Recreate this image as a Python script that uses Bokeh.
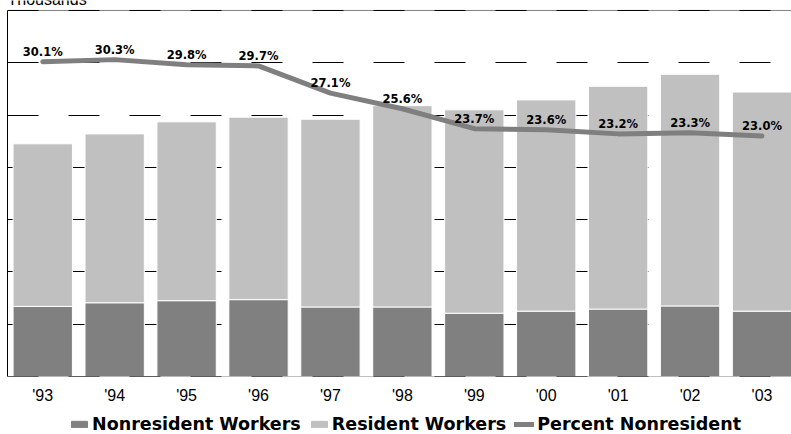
from bokeh.plotting import figure
from bokeh.layouts import column
from bokeh.models import (Range1d, FixedTicker, Span, Label, Legend,
                          LegendItem, ColumnDataSource)
from bokeh.core.properties import value
from bokeh.embed import file_html
from bokeh.resources import INLINE

# Workers by residency status (thousands) and the nonresident share (%)
years = ["'93", "'94", "'95", "'96", "'97", "'98", "'99", "'00", "'01", "'02", "'03"]
nonresident = [13.4, 14.1, 14.5, 14.7, 13.3, 13.3, 12.1, 12.5, 12.9, 13.5, 12.5]
resident = [31.1, 32.3, 34.2, 34.9, 35.9, 38.5, 38.9, 40.4, 42.6, 44.3, 41.9]
pct_nonresident = [30.1, 30.3, 29.8, 29.7, 27.1, 25.6, 23.7, 23.6, 23.2, 23.3, 23.0]
y_ticks = [0, 10, 20, 30, 40, 50, 60, 70]
pct_max = 35
series_names = ["Nonresident Workers", "Resident Workers", "Percent Nonresident"]

DARK = "#808080"
LIGHT = "#c0c0c0"
LINE = "#7f7f7f"

# the frame runs to the top edge of the canvas so the unit caption can sit
# above the last rule; the scales are stretched so that rule stays 10px down
W = 791
MAIN_H, KEY_H = 406, 28
FRAME_H = 377
GRID_H = 367
y_top = y_ticks[-1] * FRAME_H / GRID_H
pct_top = pct_max * FRAME_H / GRID_H

xs = list(range(len(years)))
src = ColumnDataSource(dict(
    x=xs, year=years, nonres=nonresident, res=resident, pct=pct_nonresident,
    pct_label=[f"{v:.1f}%" for v in pct_nonresident],
))

p = figure(width=W, height=MAIN_H, output_backend="svg", toolbar_location=None,
           x_range=Range1d(-0.49, 10.41), y_range=Range1d(0, y_top),
           min_border_left=7, min_border_right=0, min_border_top=0,
           min_border_bottom=MAIN_H - FRAME_H, outline_line_color=None)
p.extra_y_ranges = {"pct": Range1d(0, pct_top)}

# axes
p.xaxis.ticker = FixedTicker(ticks=xs)
p.xaxis.major_label_overrides = {i: y for i, y in enumerate(years)}
p.xaxis.axis_line_color = None
p.xaxis.major_tick_line_color = None
p.xaxis.minor_tick_line_color = None
p.xaxis.major_tick_out = 0
p.xaxis.major_label_text_font = "Liberation Sans"
p.xaxis.major_label_text_font_size = "16px"
p.xaxis.major_label_text_color = "black"
p.xaxis.major_label_standoff = 10

p.yaxis.ticker = FixedTicker(ticks=y_ticks)
p.yaxis.bounds = (y_ticks[0], y_ticks[-1])
p.yaxis.axis_line_color = "black"
p.yaxis.axis_line_width = 1
p.yaxis.major_tick_line_color = None
p.yaxis.minor_tick_line_color = None
p.yaxis.major_tick_out = 0
p.yaxis.major_label_text_font_size = "0px"
p.yaxis.major_label_standoff = 0

p.xgrid.grid_line_color = None
p.ygrid.grid_line_color = "black"
p.ygrid.grid_line_width = 1
p.ygrid.grid_line_dash = "31 30"

# top and bottom rules: solid grey under black dashes
for loc in (y_ticks[0], y_ticks[-1]):
    p.add_layout(Span(location=loc, dimension="width", line_color=DARK,
                      line_width=1, level="guide"))
    p.add_layout(Span(location=loc, dimension="width", line_color="black",
                      line_width=1, line_dash="31 30", level="annotation"))

# stacked bars
bars = p.vbar_stack(["nonres", "res"], x="x", width=0.825, source=src,
                    color=[DARK, LIGHT], line_color="white", line_width=1)

# nonresident share on the secondary scale
ln = p.line("x", "pct", source=src, y_range_name="pct", line_color=LINE,
            line_width=5, line_cap="round", line_join="round")
p.text("x", "pct", text="pct_label", source=src, y_range_name="pct",
       text_font=value("DejaVu Sans"), text_font_style="bold",
       text_font_size="11.5px", text_color="black",
       text_align="center", text_baseline="middle", y_offset=-10)

p.add_layout(Label(x=0, y=FRAME_H, x_units="screen", y_units="screen",
                   text="Thousands", text_font="Liberation Sans",
                   text_font_size="16px", text_color="black",
                   text_baseline="alphabetic"))

# key strip under the chart; its hidden series only supply the swatch styles
k = figure(width=W, height=KEY_H, output_backend="svg", toolbar_location=None,
           x_range=Range1d(-0.49, 10.41), y_range=Range1d(0, y_top),
           x_axis_location=None, y_axis_location=None,
           min_border=0, outline_line_color=None)
k.xgrid.visible = False
k.ygrid.visible = False
key_bars = k.vbar_stack(["nonres", "res"], x="x", width=0.825, source=src,
                        color=[DARK, LIGHT], visible=False)
key_line = k.line("x", "pct", source=src, line_color=LINE, line_width=5,
                  line_cap="round", visible=False)

legend = Legend(items=[
    LegendItem(label=series_names[0], renderers=[key_bars[0]]),
    LegendItem(label=series_names[1], renderers=[key_bars[1]]),
    LegendItem(label=series_names[2], renderers=[key_line]),
], orientation="horizontal", location=(62, 0),
    label_text_font="DejaVu Sans", label_text_font_style="bold",
    label_text_font_size="17.5px", label_text_color="black",
    glyph_width=20, glyph_height=8, label_standoff=3, spacing=8,
    padding=0, margin=0, border_line_color=None, background_fill_alpha=0,
    inactive_fill_alpha=0, click_policy="none")
k.add_layout(legend, "center")

layout = column(p, k, spacing=0)
open("out.html", "w").write(file_html(layout, INLINE))
